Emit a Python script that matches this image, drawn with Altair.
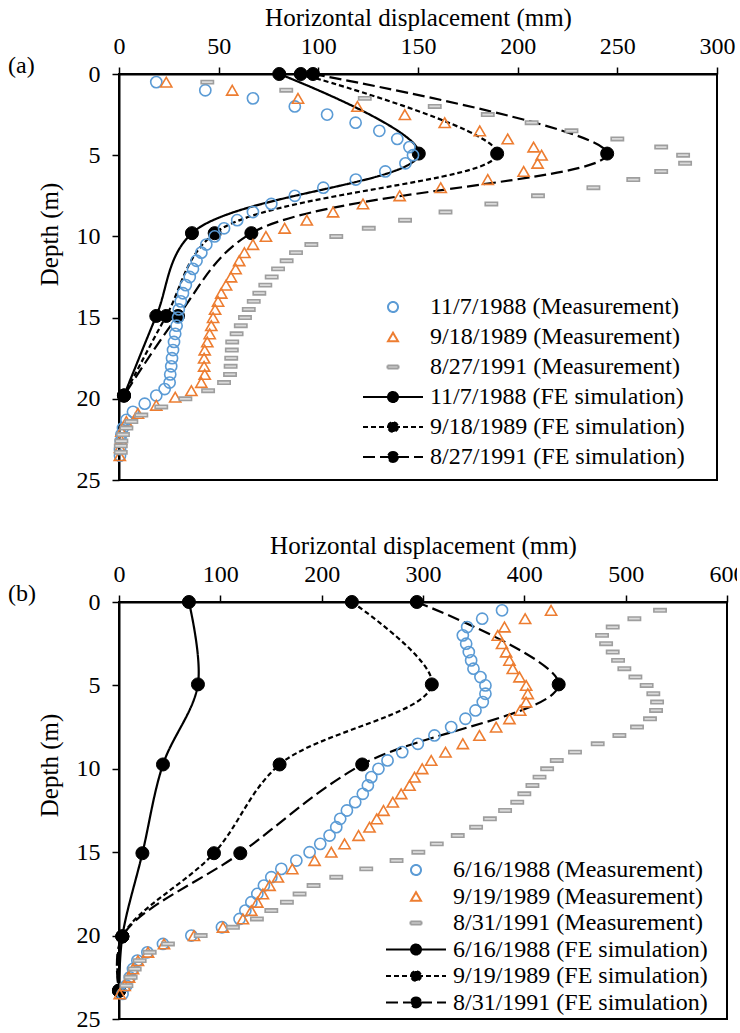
import altair as alt
import pandas as pd

FONT = "Liberation Serif"

# ---------------- Panel (a) ----------------
A_SERIES = ["11/7/1988 (Measurement)", "9/18/1989 (Measurement)", "8/27/1991 (Measurement)",
            "11/7/1988 (FE simulation)", "9/18/1989 (FE simulation)", "8/27/1991 (FE simulation)"]

A_M1_DEPTH = [0.5, 1.0, 1.5, 2.0, 2.5, 3.0, 3.5, 4.0, 4.5, 5.0, 5.5, 6.0, 6.5, 7.0, 7.5, 8.0, 8.5, 9.0, 9.5,
              10.0, 10.5, 11.0, 11.5, 12.0, 12.5, 13.0, 13.5, 14.0, 14.5, 15.0, 15.5, 16.0, 16.5, 17.0, 17.5,
              18.0, 18.5, 19.0, 19.4, 19.8, 20.3, 20.8, 21.3, 21.8, 22.2, 22.6, 23.1, 23.5]
A_M1_DISP = [18.7, 43.3, 67.2, 88.2, 104.4, 118.7, 130.6, 139.6, 145.7, 147.5, 143.7, 133.6, 118.8, 102.5, 88.2,
             76.4, 67.2, 59.3, 52.7, 48.0, 43.8, 41.3, 38.9, 37.1, 35.5, 33.5, 32.1, 31.0, 30.0, 29.6, 28.9, 28.2,
             27.6, 27.1, 26.6, 26.2, 25.7, 25.4, 22.9, 18.7, 12.9, 7.0, 3.7, 2.0, 1.2, 0.9, 0.5, 0.5]

A_M2_DEPTH = [0.5, 1.0, 1.5, 2.0, 2.5, 3.0, 3.5, 4.0, 4.5, 5.0, 5.5, 6.0, 6.5, 7.0, 7.5, 8.0, 8.5, 9.0, 9.5,
              10.0, 10.5, 11.0, 11.5, 12.0, 12.5, 13.0, 13.5, 14.0, 14.5, 15.0, 15.5, 16.0, 16.5, 17.0, 17.5,
              18.0, 18.5, 19.0, 19.5, 19.9, 20.4, 20.9, 21.4, 22.0, 22.5, 23.0, 23.5]
A_M2_DISP = [23.7, 56.8, 89.8, 119.6, 143.4, 163.4, 181.0, 195.0, 208.0, 212.0, 210.0, 203.0, 185.0, 161.4, 140.8,
             122.4, 107.4, 94.2, 83.1, 73.7, 67.2, 62.9, 60.3, 58.5, 56.2, 53.7, 51.3, 49.7, 48.2, 47.2, 46.3, 45.5,
             44.3, 43.0, 42.7, 42.7, 43.0, 41.3, 36.3, 28.2, 18.7, 9.5, 3.7, 1.2, 0.9, 0.5, 0.4]

A_M3_DEPTH = [0.5, 1.0, 1.5, 2.0, 2.5, 3.0, 3.5, 4.0, 4.5, 5.0, 5.5, 6.0, 6.5, 7.0, 7.5, 8.0, 8.5, 9.0, 9.5,
              10.0, 10.5, 11.0, 11.5, 12.0, 12.5, 13.0, 13.5, 14.0, 14.5, 15.0, 15.5, 16.0, 16.5, 17.0, 17.5,
              18.0, 18.5, 19.0, 19.5, 20.0, 20.5, 21.0, 21.4, 21.8, 22.2, 22.6, 22.9, 23.3]
A_M3_DISP = [44.3, 83.9, 123.3, 158.4, 185.0, 207.0, 227.0, 250.0, 272.0, 283.0, 284.0, 272.0, 258.0, 238.0, 210.2,
             186.8, 163.8, 143.5, 125.3, 109.0, 96.5, 88.8, 84.1, 79.8, 76.6, 73.4, 70.4, 67.6, 65.1, 63.2, 61.1,
             59.0, 56.8, 56.6, 56.3, 56.0, 55.7, 52.7, 44.7, 33.3, 21.2, 11.2, 6.2, 3.7, 2.0, 1.2, 0.9, 0.9]

A_FE_DEPTH = [0.0, 4.9, 9.8, 14.9, 19.8]
A_FE1 = [80.4, 150.4, 36.6, 18.7, 2.5]
A_FE2 = [91.2, 189.7, 48.0, 23.7, 2.5]
A_FE3 = [97.3, 244.9, 66.4, 29.6, 2.5]

# ---------------- Panel (b) ----------------
B_SERIES = ["6/16/1988 (Measurement)", "9/19/1989 (Measurement)", "8/31/1991 (Measurement)",
            "6/16/1988 (FE simulation)", "9/19/1989 (FE simulation)", "8/31/1991 (FE simulation)"]

B_M_DEPTH = [0.5, 1.0, 1.5, 2.0, 2.5, 3.0, 3.5, 4.0, 4.5, 5.0, 5.5, 6.0, 6.5, 7.0, 7.5, 8.0, 8.5, 9.0, 9.5,
             10.0, 10.5, 11.0, 11.5, 12.0, 12.5, 13.0, 13.5, 14.0, 14.5, 15.0, 15.5, 16.0, 16.5, 17.0, 17.5,
             18.0, 18.5, 19.0, 19.5, 20.0, 20.5, 21.0, 21.5, 22.0, 22.5, 23.0, 23.5]
B_M1_DISP = [378.0, 358.4, 343.6, 339.3, 342.6, 345.2, 347.5, 349.8, 356.7, 361.6, 361.6, 359.0, 351.8, 341.9,
             327.8, 311.3, 294.9, 279.5, 265.0, 256.0, 249.0, 245.6, 240.6, 233.1, 224.9, 218.3, 214.4, 207.8,
             198.6, 188.1, 175.0, 160.2, 150.3, 143.0, 136.5, 130.6, 124.7, 119.0, 101.6, 71.4, 43.4, 28.0, 18.1,
             13.8, 10.6, 7.3, 3.5]
B_M2_DISP = [426.4, 400.8, 380.4, 373.8, 378.0, 382.0, 385.3, 388.6, 395.2, 401.8, 403.4, 401.8, 395.9, 385.3,
             372.2, 355.7, 339.3, 322.2, 308.1, 299.2, 291.6, 286.7, 278.5, 270.2, 261.0, 254.4, 247.2, 236.4,
             222.6, 209.5, 193.0, 171.0, 156.8, 148.6, 142.0, 136.5, 130.6, 122.3, 102.6, 74.0, 44.4, 28.6, 18.7,
             13.8, 9.9, 5.6, 0.7]
B_M3_DEPTH = B_M_DEPTH[:-1]
B_M3_DISP = [533.9, 508.6, 487.2, 476.7, 480.7, 487.2, 492.5, 498.7, 509.6, 520.7, 527.3, 531.0, 530.0, 524.0,
             511.2, 493.8, 472.4, 450.0, 432.0, 422.5, 415.0, 408.0, 400.0, 393.0, 381.0, 366.0, 352.4, 334.3,
             313.6, 295.4, 273.9, 244.0, 214.4, 192.0, 178.2, 165.7, 150.3, 136.1, 112.4, 80.6, 48.3, 30.3, 20.4,
             15.5, 11.5, 7.3]

B_FE_DEPTH = [0.0, 4.94, 9.74, 15.06, 20.05, 23.3]
B_FE1 = [69.0, 77.9, 43.4, 23.1, 3.3, 0.0]
B_FE2 = [229.8, 308.7, 158.5, 93.7, 3.3, 0.0]
B_FE3 = [293.9, 433.9, 240.0, 119.7, 3.3, 0.0]

# ---------------- styling ----------------
STROKES = ["#5B9BD5", "#ED7D31", "#9E9E9E", "black", "black", "black"]
FILLS = ["transparent", "transparent", "#DADADA", "black", "black", "black"]
DASH_PATH = "M-1.1,-0.3H1.1V0.3H-1.1Z"
FE_PATH = "M-6,0H6M1,0A1,1,0,1,1,-1,0A1,1,0,1,1,1,0Z"
SHAPES = ["circle", "triangle-up", DASH_PATH, FE_PATH, FE_PATH, FE_PATH]
DASHES = [[1, 0], [1, 0], [1, 0], [1, 0], [5, 3], [12, 5]]


def long_table(series, depths, values):
    rows = []
    for s, d, v in zip(series, depths, values):
        for i, (dd, vv) in enumerate(zip(d, v)):
            rows.append({"series": s, "depth": dd, "disp": vv, "k": i})
    return pd.DataFrame(rows)


def panel(series, meas_depths, meas_vals, fe_depth, fe_vals, xmax, xstep, width, height,
          leg_x, leg_y, row_pad, tag, title_y):
    meas = long_table(series[:3], meas_depths, meas_vals)
    fe = long_table(series[3:], [fe_depth] * 3, fe_vals)

    leg = alt.Legend(title=None, orient="none", legendX=leg_x, legendY=leg_y, direction="vertical",
                     labelFont=FONT, labelFontSize=24, labelColor="black", labelLimit=600,
                     symbolSize=100, symbolStrokeWidth=2, labelOffset=25, rowPadding=row_pad,
                     padding=0, offset=0)

    x = alt.X("disp:Q", scale=alt.Scale(domain=[0, xmax], nice=False, zero=True),
              axis=alt.Axis(orient="top", values=list(range(0, xmax + 1, xstep)),
                            title="Horizontal displacement (mm)", grid=False))
    y = alt.Y("depth:Q", scale=alt.Scale(domain=[0, 25], reverse=True, nice=False),
              axis=alt.Axis(values=[0, 5, 10, 15, 20, 25], title="Depth (m)", grid=False, titleY=title_y))

    stroke = alt.Stroke("series:N", scale=alt.Scale(domain=series, range=STROKES), legend=leg)
    fill = alt.Fill("series:N", scale=alt.Scale(domain=series, range=FILLS), legend=leg)
    shape = alt.Shape("series:N", scale=alt.Scale(domain=series, range=SHAPES), legend=leg)
    dash = alt.StrokeDash("series:N", scale=alt.Scale(domain=series, range=DASHES), legend=leg)

    lines = alt.Chart(fe).mark_line(interpolate="catmull-rom", strokeWidth=2.2).encode(
        x=x, y=y, stroke=stroke, strokeDash=dash, order=alt.Order("k:Q"))
    fe_pts = alt.Chart(fe).mark_point(shape="circle", size=170, opacity=1, strokeWidth=1).encode(
        x=x, y=y, stroke=stroke, fill=fill)
    pts = alt.Chart(meas).mark_point(size=125, opacity=1, strokeWidth=1.6).encode(
        x=x, y=y, stroke=stroke, fill=fill, shape=shape)

    return alt.layer(lines, fe_pts, pts).properties(
        width=width, height=height,
        title=alt.TitleParams(text=tag, anchor="start", frame="group", orient="top", font=FONT,
                              fontSize=24, fontWeight="normal", color="black", dx=-111, dy=85,
                              baseline="middle", offset=0))


pa = panel(A_SERIES, [A_M1_DEPTH, A_M2_DEPTH, A_M3_DEPTH], [A_M1_DISP, A_M2_DISP, A_M3_DISP],
           A_FE_DEPTH, [A_FE1, A_FE2, A_FE3], 300, 50, 598, 406, 262, 221, 6, "(a)", 160)
pb = panel(B_SERIES, [B_M_DEPTH, B_M_DEPTH, B_M3_DEPTH], [B_M1_DISP, B_M2_DISP, B_M3_DISP],
           B_FE_DEPTH, [B_FE1, B_FE2, B_FE3], 600, 100, 608, 417, 285, 256, 2.5, "(b)", 163)

chart = alt.vconcat(pa, pb, spacing=39).resolve_scale(
    stroke="independent", fill="independent", shape="independent", strokeDash="independent"
).properties(
    padding={"left": 7, "top": 4, "right": -9, "bottom": 0}
).configure(font=FONT).configure_view(
    stroke="black", strokeWidth=2
).configure_axis(
    domainColor="black", domainWidth=2, tickColor="black", tickWidth=1.5, tickSize=7,
    labelFont=FONT, labelFontSize=24, labelColor="black", titleFont=FONT, titleFontSize=25,
    titleFontWeight="normal", titleColor="black", labelPadding=9, titlePadding=4,
    labelFlush=False, labelOverlap=False
).configure_axisY(labelPadding=12, titlePadding=14)

chart.save("out.html", embed_options={"renderer": "svg", "actions": False})
